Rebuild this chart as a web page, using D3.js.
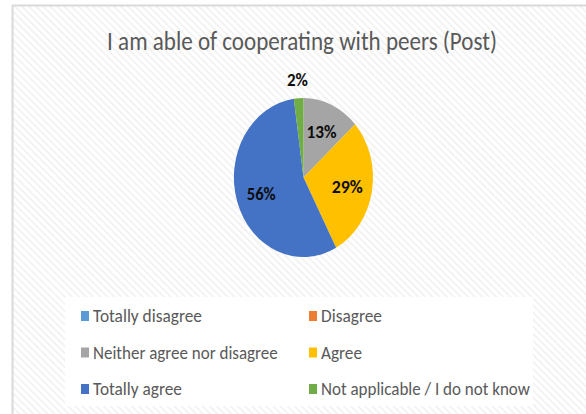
<!DOCTYPE html>
<html><head><meta charset="utf-8">
<script src="https://cdn.jsdelivr.net/npm/d3@7"></script>
<style>html,body{margin:0;padding:0;background:#fff;}svg{display:block;}</style>
</head><body>
<svg id="chart" width="586" height="414"></svg>
<script>
const title = "I am able of cooperating with peers (Post)";
const categories = ["Totally disagree","Disagree","Neither agree nor disagree","Agree","Totally agree","Not applicable / I do not know"];
const counts = [0, 0, 6, 13, 25, 1];
const colors = ["#5B9BD5","#ED7D31","#A5A5A5","#FFC000","#4472C4","#70AD47"];

const svg = d3.select("#chart");
const W = 586, H = 414;
const defs = svg.append("defs");
const pat = defs.append("pattern").attr("id","hatch").attr("patternUnits","userSpaceOnUse")
  .attr("width",5).attr("height",5).attr("patternTransform","rotate(-45)");
pat.append("rect").attr("width",5).attr("height",5).attr("fill","#ffffff");
pat.append("rect").attr("width",2).attr("height",5).attr("fill","#f3f3f3");

// chart area
svg.append("rect").attr("x",12).attr("y",5).attr("width",W-12).attr("height",H-5).attr("fill","url(#hatch)");
svg.append("line").attr("x1",12).attr("x2",W).attr("y1",5.5).attr("y2",5.5).attr("stroke","#d9d9d9").attr("stroke-width",2);
svg.append("line").attr("x1",12.5).attr("x2",12.5).attr("y1",5).attr("y2",H).attr("stroke","#d9d9d9").attr("stroke-width",2);

const FONT = "Carlito, Calibri, 'Open Sans', sans-serif";
function fitText(sel, x, y, str, size, targetWidth, anchor, weight, fill) {
  const t = sel.append("text").attr("font-family",FONT).attr("font-size",size)
    .attr("font-weight",weight||"normal").attr("fill",fill).attr("text-anchor",anchor).text(str);
  const w = t.node().getComputedTextLength();
  const k = targetWidth ? targetWidth / w : 1;
  t.attr("transform",`translate(${x},${y}) scale(${k},1)`);
  return k;
}
// title
fitText(svg, 302, 50, title, 26.5, 390, "middle", "normal", "#595959");

// pie
const cx = 303.5, cy = 177.5, rx = 69.5, ry = 79.5;
const total = d3.sum(counts);
const data = categories.map((c,i)=>({cat:c, v:counts[i], color:colors[i]}));
const pie = d3.pie().value(d=>d.v).sort(null);
const arcs = pie(data);
const arc = d3.arc().innerRadius(0).outerRadius(1);
const g = svg.append("g").attr("transform",`translate(${cx},${cy}) scale(${rx},${ry})`);
g.selectAll("path").data(arcs.filter(a=>a.data.v>0)).join("path")
  .attr("d",arc).attr("fill",d=>d.data.color);

// labels
const lblG = svg.append("g");
const labelWidth = {"2%":21, "13%":30, "29%":31, "56%":29};
arcs.filter(a=>a.data.v>0).forEach(a=>{
  const mid = (a.startAngle+a.endAngle)/2;
  const frac = a.data.v/total;
  const r = frac < 0.05 ? 1.24 : 0.64;
  const x = cx + Math.sin(mid)*r*rx;
  const y = cy - Math.cos(mid)*r*ry + 6.5;
  const s = Math.round(frac*100)+"%";
  fitText(lblG, x, y, s, 18.5, labelWidth[s], "middle", "bold", "#0d0d0d");
});

// legend
svg.append("rect").attr("x",65).attr("y",297).attr("width",468).attr("height",109).attr("fill","#ffffff");
const legendX = [81, 309];
const legendY = [322, 358.5, 395];
const legendW = {"Totally disagree":109, "Disagree":61, "Neither agree nor disagree":185, "Agree":41, "Totally agree":89, "Not applicable / I do not know":209};
data.forEach((d,i)=>{
  const col = i%2, row = Math.floor(i/2);
  const x = legendX[col], y = legendY[row];
  svg.append("rect").attr("x",x).attr("y",y-11).attr("width",8).attr("height",10).attr("fill",d.color);
  fitText(svg, x+12, y, d.cat, 19, legendW[d.cat], "start", "normal", "#595959");
});
</script>
</body></html>
